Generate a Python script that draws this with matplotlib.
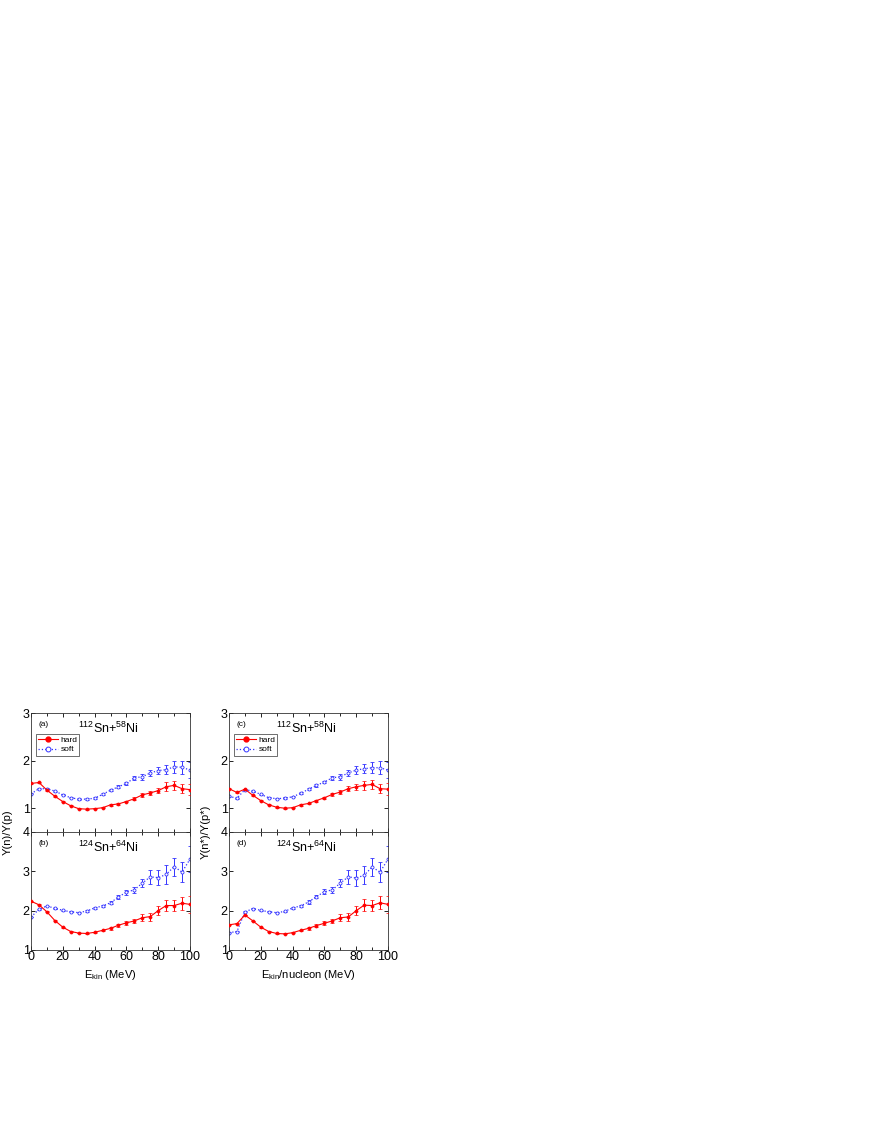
#!/usr/bin/env python3
"""Neutron/proton yield ratios vs kinetic energy, hard and soft symmetry energy."""

import matplotlib
matplotlib.use('Agg')
from matplotlib import pyplot as plt
from matplotlib.lines import Line2D
from matplotlib.ticker import MultipleLocator

energy = [0, 5, 10, 15, 20, 25, 30, 35, 40, 45, 50,
          55, 60, 65, 70, 75, 80, 85, 90, 95, 100]

# panel (a): 112Sn+58Ni, Y(n)/Y(p)
hard_a = [1.52, 1.54, 1.38, 1.25, 1.14, 1.05, 0.99, 0.98, 0.99, 1.01, 1.07,
          1.09, 1.14, 1.20, 1.28, 1.32, 1.37, 1.45, 1.48, 1.41, 1.39]
hard_a_err = [0.01, 0.01, 0.01, 0.01, 0.01, 0.01, 0.01, 0.01, 0.01, 0.015, 0.015,
              0.02, 0.02, 0.03, 0.035, 0.05, 0.06, 0.09, 0.10, 0.10, 0.12]
soft_a = [1.30, 1.41, 1.41, 1.36, 1.28, 1.22, 1.19, 1.19, 1.21, 1.29, 1.38,
          1.45, 1.52, 1.64, 1.66, 1.74, 1.79, 1.81, 1.87, 1.86, 1.80]
soft_a_err = [0.01, 0.01, 0.01, 0.01, 0.01, 0.01, 0.01, 0.015, 0.015, 0.02, 0.02,
              0.03, 0.03, 0.04, 0.06, 0.07, 0.08, 0.10, 0.12, 0.14, 0.17]

# panel (b): 124Sn+64Ni, Y(n)/Y(p)
hard_b = [2.24, 2.15, 1.97, 1.75, 1.58, 1.47, 1.43, 1.42, 1.45, 1.50, 1.55,
          1.63, 1.69, 1.74, 1.82, 1.85, 2.00, 2.13, 2.13, 2.19, 2.16]
hard_b_err = [0.01, 0.01, 0.01, 0.01, 0.01, 0.01, 0.01, 0.015, 0.02, 0.02, 0.03,
              0.035, 0.05, 0.06, 0.09, 0.10, 0.12, 0.15, 0.15, 0.17, 0.22]
soft_b = [1.84, 2.03, 2.12, 2.06, 2.01, 1.97, 1.95, 1.99, 2.07, 2.12, 2.20,
          2.35, 2.47, 2.53, 2.70, 2.86, 2.84, 2.92, 3.12, 2.98, 3.31]
soft_b_err = [0.01, 0.01, 0.01, 0.01, 0.01, 0.015, 0.015, 0.02, 0.02, 0.03, 0.04,
              0.05, 0.06, 0.07, 0.10, 0.18, 0.20, 0.23, 0.23, 0.25, 0.33]

# panel (c): 112Sn+58Ni, Y(n*)/Y(p*)
hard_c = [1.41, 1.33, 1.40, 1.27, 1.16, 1.07, 1.02, 1.00, 1.01, 1.07, 1.10,
          1.16, 1.22, 1.29, 1.34, 1.41, 1.45, 1.48, 1.50, 1.41, 1.40]
hard_c_err = [0.01, 0.01, 0.01, 0.01, 0.01, 0.01, 0.01, 0.01, 0.01, 0.015, 0.015,
              0.02, 0.02, 0.03, 0.035, 0.05, 0.06, 0.09, 0.10, 0.10, 0.12]
soft_c = [1.25, 1.21, 1.39, 1.36, 1.29, 1.22, 1.20, 1.21, 1.24, 1.31, 1.40,
          1.48, 1.55, 1.64, 1.66, 1.74, 1.80, 1.83, 1.85, 1.85, 1.80]
soft_c_err = [0.01, 0.01, 0.01, 0.01, 0.01, 0.01, 0.01, 0.015, 0.015, 0.02, 0.02,
              0.03, 0.03, 0.04, 0.06, 0.07, 0.08, 0.10, 0.12, 0.14, 0.17]

# panel (d): 124Sn+64Ni, Y(n*)/Y(p*)
hard_d = [1.64, 1.67, 1.89, 1.74, 1.58, 1.47, 1.42, 1.41, 1.44, 1.50, 1.55,
          1.62, 1.68, 1.74, 1.82, 1.84, 2.00, 2.14, 2.13, 2.20, 2.16]
hard_d_err = [0.01, 0.01, 0.01, 0.01, 0.01, 0.01, 0.01, 0.015, 0.02, 0.02, 0.03,
              0.035, 0.05, 0.06, 0.09, 0.10, 0.12, 0.15, 0.15, 0.17, 0.22]
soft_d = [1.44, 1.47, 1.97, 2.05, 2.01, 1.97, 1.95, 1.98, 2.07, 2.12, 2.22,
          2.36, 2.48, 2.53, 2.70, 2.86, 2.83, 2.90, 3.11, 2.98, 3.31]
soft_d_err = [0.01, 0.01, 0.01, 0.01, 0.01, 0.015, 0.015, 0.02, 0.02, 0.03, 0.04,
              0.05, 0.06, 0.07, 0.10, 0.18, 0.20, 0.23, 0.23, 0.25, 0.33]

reaction_light = r'$^{112}$Sn+$^{58}$Ni'
reaction_heavy = r'$^{124}$Sn+$^{64}$Ni'

RED = '#ff0000'
BLUE = '#3333ff'


def draw_panel(ax, hard, hard_err, soft, soft_err, tag, reaction, legend=False):
    ax.errorbar(energy, hard, yerr=hard_err, color=RED, ls='-', lw=0.8,
                marker='o', ms=2.2, mfc=RED, mec=RED, mew=0.5, elinewidth=0.7,
                capsize=1.5, capthick=0.6, zorder=3)
    ax.errorbar(energy, soft, yerr=soft_err, color=BLUE, ls=':', lw=0.9,
                marker='o', ms=2.2, mfc='white', mec=BLUE, mew=0.6,
                elinewidth=0.7, capsize=1.5, capthick=0.6, zorder=2)
    ax.set_xlim(0, 100)
    ax.xaxis.set_major_locator(MultipleLocator(20))
    ax.xaxis.set_minor_locator(MultipleLocator(10))
    ax.yaxis.set_major_locator(MultipleLocator(1))
    ax.tick_params(which='both', direction='in', top=True, right=True,
                   labelsize=9, pad=1.0, width=0.6)
    ax.tick_params(which='major', length=3)
    ax.tick_params(which='minor', length=2)
    for sp in ax.spines.values():
        sp.set_linewidth(0.6)
        sp.set_color('#333333')
    ax.text(0.045, 0.90, tag, transform=ax.transAxes, fontsize=6, va='center')
    ax.text(0.49, 0.87, reaction, transform=ax.transAxes, fontsize=9,
            ha='center', va='center')
    if legend:
        handles = [
            Line2D([], [], color=RED, ls='-', lw=0.8, marker='o', ms=3.5,
                   mfc=RED, mec=RED),
            Line2D([], [], color=BLUE, ls=':', lw=0.9, marker='o', ms=3.5,
                   mfc='white', mec=BLUE, mew=0.7),
        ]
        leg = ax.legend(handles, ['hard', 'soft'], loc='upper left',
                        bbox_to_anchor=(0.03, 0.82), fontsize=6,
                        frameon=True, fancybox=False, edgecolor='black',
                        borderpad=0.25, labelspacing=0.15, handlelength=2.4,
                        handletextpad=0.3, borderaxespad=0.0, markerscale=1.0)
        leg.get_frame().set_linewidth(0.5)


def main():
    plt.rcParams['font.family'] = ['Liberation Sans', 'DejaVu Sans']
    plt.rcParams['mathtext.fontset'] = 'custom'
    plt.rcParams['mathtext.rm'] = 'Liberation Sans'
    plt.rcParams['mathtext.it'] = 'Liberation Sans:italic'
    plt.rcParams['mathtext.bf'] = 'Liberation Sans:bold'

    fig = plt.figure(figsize=(8.72, 11.28), dpi=100)
    W, H = 872.0, 1128.0
    xl = [31, 229]
    width = 159
    top_y, mid_y, bot_y = 713, 832, 950

    panels = [
        (hard_a, hard_a_err, soft_a, soft_a_err, '(a)', reaction_light),
        (hard_b, hard_b_err, soft_b, soft_b_err, '(b)', reaction_heavy),
        (hard_c, hard_c_err, soft_c, soft_c_err, '(c)', reaction_light),
        (hard_d, hard_d_err, soft_d, soft_d_err, '(d)', reaction_heavy),
    ]

    for col in range(2):
        ax_top = fig.add_axes([xl[col] / W, 1 - mid_y / H,
                               width / W, (mid_y - top_y) / H])
        ax_bot = fig.add_axes([xl[col] / W, 1 - bot_y / H,
                               width / W, (bot_y - mid_y) / H])
        p_top = panels[2 * col]
        p_bot = panels[2 * col + 1]
        draw_panel(ax_top, *p_top, legend=True)
        draw_panel(ax_bot, *p_bot)
        ax_top.set_ylim(0.5, 3)
        ax_bot.set_ylim(1, 4)
        ax_top.tick_params(labelbottom=False)

        if col == 0:
            ylab = 'Y(n)/Y(p)'
            xlab = r'E$_{\rm kin}$ (MeV)'
        else:
            ylab = 'Y(n*)/Y(p*)'
            xlab = r'E$_{\rm kin}$/nucleon (MeV)'
        fig.text((xl[col] - 23) / W, 1 - mid_y / H, ylab, rotation=90,
                 ha='center', va='center', fontsize=8)
        ax_bot.set_xlabel(xlab, fontsize=8, labelpad=3)

    fig.savefig('out.png', dpi=100)


if __name__ == '__main__':
    main()
